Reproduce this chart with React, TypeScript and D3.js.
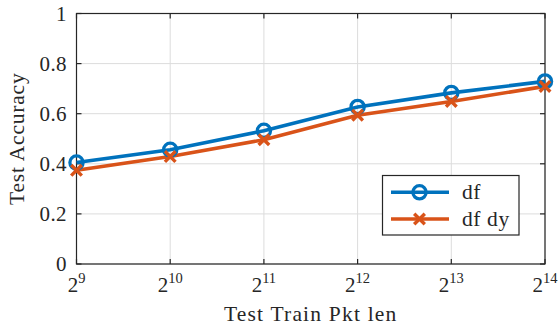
import React from "react";
import * as d3 from "d3";

const exponents = [9, 10, 11, 12, 13, 14];
const dfValues = [0.405, 0.456, 0.532, 0.627, 0.683, 0.729];
const dfDyValues = [0.374, 0.429, 0.496, 0.594, 0.649, 0.709];
const yTicks = [0, 0.2, 0.4, 0.6, 0.8, 1];
const yTickLabels = ["0", "0.2", "0.4", "0.6", "0.8", "1"];
const seriesNames = ["df", "df dy"];
const xLabel = "Test Train Pkt len";
const yLabel = "Test Accuracy";

const W = 558;
const H = 329;
const M = { left: 76.5, right: 545, top: 13.5, bottom: 264 };
const BLUE = "#0072BD";
const ORANGE = "#D95319";
const AX = "#262626";
const FONT = "'Liberation Serif', 'Times New Roman', serif";
const LW = 3.6;

export default function App() {
  const x = d3.scaleLinear().domain([9, 14]).range([M.left, M.right]);
  const y = d3.scaleLinear().domain([0, 1]).range([M.bottom, M.top]);
  const line = d3
    .line<number>()
    .x((_, i) => x(exponents[i]))
    .y((d) => y(d));

  const circle = (cx: number, cy: number, key: string) => (
    <circle key={key} cx={cx} cy={cy} r={6.6} fill="none" stroke={BLUE} strokeWidth={3.3} />
  );
  const cross = (cx: number, cy: number, key: string) => {
    const s = 5.3;
    return (
      <path
        key={key}
        d={`M${cx - s},${cy - s}L${cx + s},${cy + s}M${cx - s},${cy + s}L${cx + s},${cy - s}`}
        stroke={ORANGE}
        strokeWidth={3.4}
        fill="none"
      />
    );
  };

  const tickLen = 5;
  const legX = 382.5;
  const legY = 175.5;
  const legW = 136.5;
  const legH = 59.5;
  const rows = [192.3, 219];

  return (
    <svg
      width={W}
      height={H}
      style={{ position: "absolute", left: 0, top: 0, background: "#fff" }}
      fontFamily={FONT}
    >
      <rect x={0} y={0} width={W} height={H} fill="#fff" />
      {/* grid */}
      {exponents.map((e) => (
        <line key={"gx" + e} x1={x(e)} x2={x(e)} y1={M.top} y2={M.bottom} stroke="#dcdcdc" strokeWidth={1} />
      ))}
      {yTicks.map((t) => (
        <line key={"gy" + t} x1={M.left} x2={M.right} y1={y(t)} y2={y(t)} stroke="#dcdcdc" strokeWidth={1} />
      ))}
      {/* axes box */}
      <rect
        x={M.left}
        y={M.top}
        width={M.right - M.left}
        height={M.bottom - M.top}
        fill="none"
        stroke={AX}
        strokeWidth={1.2}
      />
      {/* ticks */}
      {exponents.map((e) => (
        <g key={"tx" + e}>
          <line x1={x(e)} x2={x(e)} y1={M.bottom} y2={M.bottom - tickLen} stroke={AX} strokeWidth={1.2} />
          <line x1={x(e)} x2={x(e)} y1={M.top} y2={M.top + tickLen} stroke={AX} strokeWidth={1.2} />
          <text x={x(e)} y={292} textAnchor="middle" fontSize={21} fill={AX}>
            2
            <tspan dy={-9} fontSize={14.5}>
              {e}
            </tspan>
          </text>
        </g>
      ))}
      {yTicks.map((t, i) => (
        <g key={"ty" + t}>
          <line x1={M.left} x2={M.left + tickLen} y1={y(t)} y2={y(t)} stroke={AX} strokeWidth={1.2} />
          <line x1={M.right} x2={M.right - tickLen} y1={y(t)} y2={y(t)} stroke={AX} strokeWidth={1.2} />
          <text x={67} y={y(t) + 7} textAnchor="end" fontSize={21} fill={AX} letterSpacing={0.4}>
            {yTickLabels[i]}
          </text>
        </g>
      ))}
      {/* lines */}
      <path d={line(dfValues) || ""} fill="none" stroke={BLUE} strokeWidth={LW} />
      <path d={line(dfDyValues) || ""} fill="none" stroke={ORANGE} strokeWidth={LW} />
      {dfValues.map((v, i) => circle(x(exponents[i]), y(v), "c" + i))}
      {dfDyValues.map((v, i) => cross(x(exponents[i]), y(v), "x" + i))}
      {/* labels */}
      <text
        x={(M.left + M.right) / 2}
        y={321}
        textAnchor="middle"
        fontSize={21.5}
        fill={AX}
        letterSpacing={1.2}
      >
        {xLabel}
      </text>
      <text
        transform={`translate(23.5,${(M.top + M.bottom) / 2}) rotate(-90)`}
        textAnchor="middle"
        fontSize={21.5}
        fill={AX}
        letterSpacing={0.8}
      >
        {yLabel}
      </text>
      {/* legend */}
      <rect x={legX} y={legY} width={legW} height={legH} fill="#fff" stroke={AX} strokeWidth={1.2} />
      <line x1={391} x2={449} y1={rows[0]} y2={rows[0]} stroke={BLUE} strokeWidth={LW} />
      {circle(419.5, rows[0], "lc")}
      <line x1={391} x2={449} y1={rows[1]} y2={rows[1]} stroke={ORANGE} strokeWidth={LW} />
      {cross(419.5, rows[1], "lx")}
      <text x={462} y={rows[0] + 7} fontSize={21.5} fill={AX} letterSpacing={0.6}>
        {seriesNames[0]}
      </text>
      <text x={462} y={rows[1] + 7} fontSize={21.5} fill={AX} letterSpacing={0.6}>
        {seriesNames[1]}
      </text>
    </svg>
  );
}
